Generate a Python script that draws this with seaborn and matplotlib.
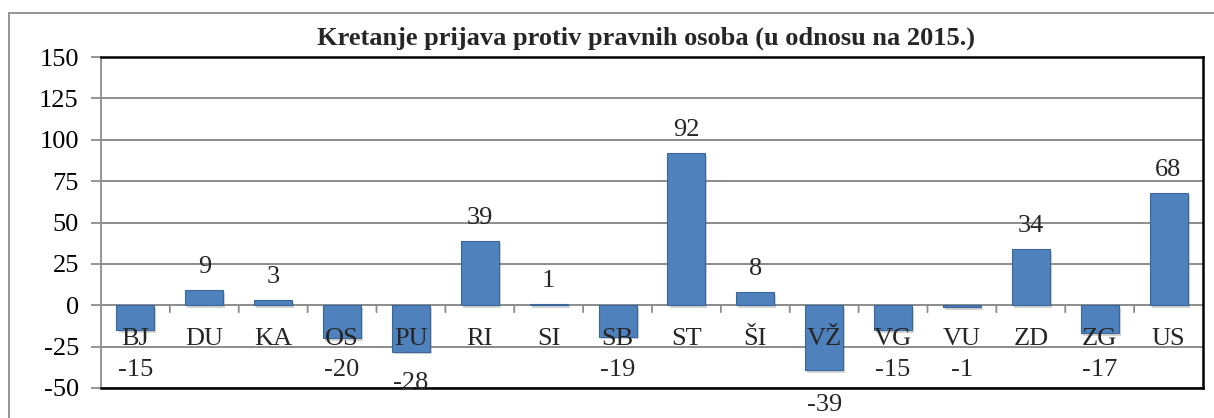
import matplotlib
matplotlib.use("Agg")
import matplotlib.pyplot as plt
import matplotlib.patheffects as pe
from matplotlib.patches import Rectangle
import seaborn as sns
import pandas as pd

# Data
categories = ['BJ', 'DU', 'KA', 'OS', 'PU', 'RI', 'SI', 'SB', 'ST', 'ŠI',
              'VŽ', 'VG', 'VU', 'ZD', 'ZG', 'US']
values = [-15, 9, 3, -20, -28, 39, 1, -19, 92, 8, -39, -15, -1, 34, -17, 68]
y_ticks = [-50, -25, 0, 25, 50, 75, 100, 125, 150]
title = 'Kretanje prijava protiv pravnih osoba (u odnosu na 2015.)'

sns.set_theme(style="white")
plt.rcParams['font.family'] = ['Liberation Serif', 'DejaVu Serif']

df = pd.DataFrame({'kat': categories, 'val': values})

fig = plt.figure(figsize=(12.14, 4.18), dpi=100)
ax = fig.add_axes([101 / 1214, 1 - 388 / 418, (1203 - 101) / 1214, (388 - 57) / 418])

# outer chart-area border (only left and top are visible in the crop)
fig.patches.append(Rectangle((9 / 1214, -0.2), 1.5, 1.2 - 13 / 418,
                             transform=fig.transFigure, fill=False,
                             edgecolor='#8c8c8c', linewidth=1.3))

sns.barplot(data=df, x='kat', y='val', color='#4F81BD', saturation=1,
            width=0.55, ax=ax, zorder=3, edgecolor='#3A6799', linewidth=0.8)
for bar in ax.patches:
    bar.set_path_effects([pe.SimplePatchShadow(offset=(1.5, -2), alpha=0.25,
                                               shadow_rgbFace='#555555'),
                          pe.Normal()])

ax.set_ylim(-50, 150)
ax.set_xlim(-0.5, len(categories) - 0.5)
ax.set_yticks(y_ticks)
ax.set_yticklabels([str(t) for t in y_ticks], fontsize=19)
ax.set_xticks([])
ax.set_xlabel('')
ax.set_ylabel('')

for t in y_ticks:
    ax.axhline(t, color='#8c8c8c', linewidth=1.4, zorder=1)

ax.tick_params(axis='y', left=True, length=7, width=1.3, color='#8c8c8c',
               pad=9, labelcolor='black')

# small ticks between categories under the zero line
for i in range(len(categories) - 1):
    ax.annotate('', xy=(i + 0.5, 0), xytext=(0, -7), textcoords='offset pixels',
                arrowprops=dict(arrowstyle='-', color='#8c8c8c', lw=1.3,
                                shrinkA=0, shrinkB=0), zorder=2)

# category labels sit just under the zero line, over the bars
for i, c in enumerate(categories):
    ax.annotate(c, xy=(i, 0), xytext=(0, -34), textcoords='offset pixels',
                ha='center', va='center', fontsize=19, zorder=5)

# value labels
for i, v in enumerate(values):
    if v >= 0:
        ax.annotate(str(v), xy=(i, v), xytext=(0, 23), textcoords='offset pixels',
                    ha='center', va='center', fontsize=19, zorder=5)
    else:
        pos = min(v, -20) - 19 if v > -30 else v - 21
        ax.annotate(str(v), xy=(i, pos), ha='center', va='center',
                    fontsize=19, zorder=5, annotation_clip=False)

for side in ['top', 'right', 'bottom']:
    ax.spines[side].set_color('black')
    ax.spines[side].set_linewidth(1.8)
ax.spines['left'].set_color('#8c8c8c')
ax.spines['left'].set_linewidth(1.3)
for s in ax.spines.values():
    s.set_zorder(4)

fig.text((101 + 1203) / 2 / 1214 - 0.005, 1 - 38 / 418, title, ha='center',
         va='center', fontsize=19, fontweight='bold')

fig.savefig('out.png', dpi=100, facecolor='white')
